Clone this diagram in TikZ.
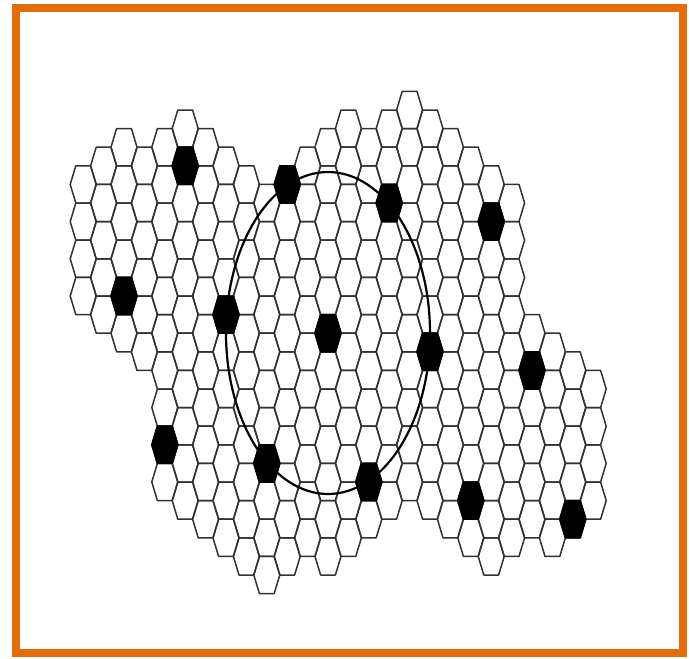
\documentclass[tikz,border=0pt]{standalone}
\definecolor{frameorange}{RGB}{228,108,10}
\definecolor{hexgray}{RGB}{50,50,50}
\begin{document}
\begin{tikzpicture}[x=1pt,y=-1pt,
  hexline/.style={draw=hexgray, line width=1.5pt, line join=round},
  hexblack/.style={fill=black, draw=black, line width=1.5pt, line join=round},
  ringline/.style={draw=black, line width=2.2pt}]
\useasboundingbox (0,0) rectangle (689,659);
\fill[white] (0,0) rectangle (689,659);
% hexagonal cells, column index / lowest row / highest row
\foreach \i/\lo/\hi in {0/-3/0, 1/-4/0, 2/-4/1, 3/-4/1, 4/-4/5, 5/-5/5, 6/-4/6, 7/-4/6,
  8/-3/7, 9/-3/7, 10/-3/7, 11/-4/6, 12/-4/7, 13/-5/6, 14/-4/6, 15/-5/5, 16/-5/5,
  17/-5/5, 18/-4/6, 19/-4/6, 20/-3/7, 21/-3/6, 22/1/6, 23/1/6, 24/2/6, 25/2/5} {
  \foreach \m in {\lo,...,\hi} {
    \pgfmathsetmacro\cx{83.2+20.4*\i}
    \pgfmathsetmacro\cy{296+37.2*\m+18.6*mod(\i,2)}
    \draw[hexline, shift={(\cx,\cy)}] (-13,0) -- (-7.4,-18.6) -- (7.4,-18.6) -- (13,0) -- (7.4,18.6) -- (-7.4,18.6) -- cycle;
  }
}
% black cells
\foreach \i/\m in {5/-4, 10/-3, 15/-3, 20/-2, 2/0, 7/0, 12/1, 17/1, 22/2, 4/4, 9/4, 14/5, 19/5, 24/6} {
  \pgfmathsetmacro\cx{83.2+20.4*\i}
  \pgfmathsetmacro\cy{296+37.2*\m+18.6*mod(\i,2)}
  \draw[hexblack, shift={(\cx,\cy)}] (-13,0) -- (-7.4,-18.6) -- (7.4,-18.6) -- (13,0) -- (7.4,18.6) -- (-7.4,18.6) -- cycle;
}
% ring
\draw[ringline] (328,333) ellipse [x radius=102, y radius=161];
% frame
\draw[draw=frameorange, line width=8pt] (16,8) rectangle (683,653);
\end{tikzpicture}
\end{document}
